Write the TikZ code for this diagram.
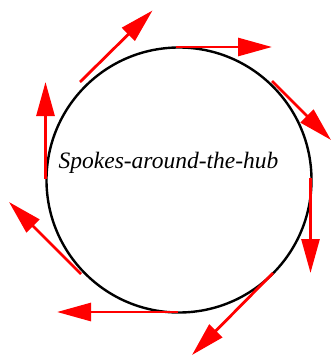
\documentclass[tikz,border=0pt]{standalone}
\usepackage{fontspec}
\setmainfont{Liberation Serif}
\usetikzlibrary{arrows.meta}
\begin{document}
\begin{tikzpicture}[x=1pt,y=-1pt,
  spoke/.style={red,line width=2.8pt,-{Triangle[length=34pt,width=18pt]}},
  hubcircle/.style={circle,draw=black,line width=2.4pt,minimum size=265pt,inner sep=0pt}]
\useasboundingbox (0,0) rectangle (331,356);
\clip (0,0) rectangle (331,356);
\node[hubcircle] (hub) at (179,180) {};
\node[font=\itshape\fontsize{23.5}{26}\selectfont,inner sep=0pt] (lbl) at (168.5,163) {Spokes-around-the-hub};
\coordinate (s1) at (176,47);   \coordinate (e1) at (272,47);
\coordinate (s2) at (272,81);   \coordinate (e2) at (331,140);
\coordinate (s3) at (310.5,178);\coordinate (e3) at (310.5,273);
\coordinate (s4) at (273,273);  \coordinate (e4) at (192,355);
\coordinate (s5) at (178,312);  \coordinate (e5) at (57,312);
\coordinate (s6) at (81,274);   \coordinate (e6) at (9,202);
\coordinate (s7) at (45.5,179); \coordinate (e7) at (45.5,82);
\coordinate (s8) at (80,82);    \coordinate (e8) at (152.5,10.5);
\foreach \i in {1,...,8} {\draw[spoke] (s\i) -- (e\i);}
\end{tikzpicture}
\end{document}
